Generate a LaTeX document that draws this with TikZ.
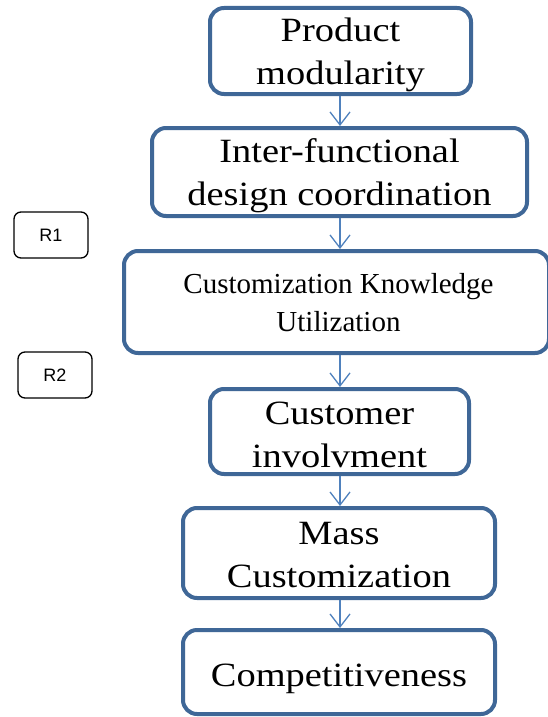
\documentclass[tikz,border=0pt]{standalone}
\usepackage{fontspec}
\setmainfont{Liberation Serif}
\newfontfamily\cambfont[FakeStretch=1.13]{Liberation Serif}
\newfontfamily\arialfont{Liberation Sans}
\usetikzlibrary{arrows.meta}
\definecolor{boxline}{HTML}{3F6797}
\definecolor{arrowcol}{HTML}{4F81BD}
\begin{document}
\begin{tikzpicture}[x=1pt,y=-1pt,
  boxframe/.style={draw=boxline,line width=4pt,rounded corners=14pt,fill=white,inner sep=0pt},
  cambtext/.style={align=center,inner sep=0pt,font=\cambfont\fontsize{34}{43}\selectfont},
  timestext/.style={align=center,inner sep=0pt,font=\fontsize{29}{38}\selectfont},
  rbox/.style={draw=black,line width=1.3pt,rounded corners=7pt,fill=white,
    minimum width=74pt,minimum height=46pt,inner sep=0pt,font=\arialfont\fontsize{18}{20}\selectfont},
  flow/.style={draw=arrowcol,line width=1.3pt,-{Straight Barb[length=13pt,width=20pt,line width=1.3pt]}}]
\useasboundingbox (0,0) rectangle (548,717);
\clip (0,0) rectangle (548,717);
\node[boxframe,minimum width=261pt,minimum height=86pt,
  label={[cambtext,yshift=-4pt]center:Product\\modularity}] (b1) at (340.5,51) {};
\node[boxframe,minimum width=375pt,minimum height=88pt,
  label={[cambtext,yshift=-4pt]center:Inter-functional\\design coordination}] (b2) at (339.5,172) {};
\node[boxframe,minimum width=425pt,minimum height=102pt,
  label={[timestext,xshift=2pt,yshift=-1pt]center:Customization Knowledge\\Utilization}] (b3) at (336.5,302) {};
\node[boxframe,minimum width=259pt,minimum height=85pt,
  label={[cambtext,yshift=-3pt]center:Customer\\involvment}] (b4) at (339.5,431.5) {};
\node[boxframe,minimum width=312pt,minimum height=90pt,
  label={[cambtext,yshift=-2pt]center:Mass\\Customization}] (b5) at (339,553) {};
\node[boxframe,minimum width=312pt,minimum height=84pt,
  label={[cambtext,yshift=-7pt]center:Competitiveness}] (b6) at (339,672) {};
\node[rbox] (r1) at (51,235) {R1};
\node[rbox] (r2) at (55,375) {R2};
\draw[flow] (b1.south -| 340,0) -- (b2.north -| 340,0);
\draw[flow] (b2.south -| 340,0) -- (b3.north -| 340,0);
\draw[flow] (b3.south -| 340,0) -- (b4.north -| 340,0);
\draw[flow] (b4.south -| 340,0) -- (b5.north -| 340,0);
\draw[flow] (b5.south -| 340,0) -- (b6.north -| 340,0);
\end{tikzpicture}
\end{document}
